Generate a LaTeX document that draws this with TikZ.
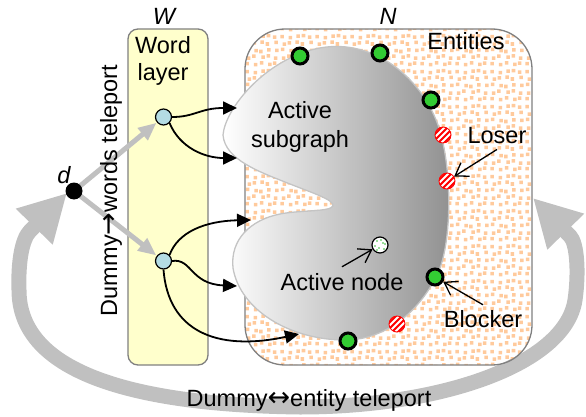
\documentclass[tikz,border=0pt]{standalone}
\usepackage{fontspec}
\setmainfont{Liberation Sans}
\newfontfamily\arrowfont{DejaVu Sans}
\usetikzlibrary{arrows.meta,patterns.meta}

\definecolor{bandgray}{HTML}{C0C0C0}
\definecolor{wordfill}{HTML}{FFFFCC}
\definecolor{boxedge}{HTML}{808080}
\definecolor{wordnode}{HTML}{B4DCE4}
\definecolor{entgreen}{HTML}{33CC33}
\definecolor{speck}{HTML}{FFCA9C}
\definecolor{blobedge}{HTML}{C4C4C4}
\definecolor{blobdark}{HTML}{909090}
\definecolor{dotgreen}{HTML}{33BB33}

% speckled fill of the entity area
\tikzdeclarepattern{
  name=speckle,
  type=uncolored,
  bounding box={(0pt,0pt) and (35pt,35pt)},
  tile size={(35pt,35pt)},
  code={
    \foreach \p in {(0.4pt,1.7pt),(9.2pt,0.6pt),(15.3pt,2.5pt),(23.8pt,1.0pt),(28.7pt,2.1pt),
                    (2.0pt,7.4pt),(7.3pt,9.4pt),(16.7pt,8.3pt),(22.1pt,9.7pt),(29.5pt,7.3pt),
                    (1.0pt,16.2pt),(9.5pt,15.1pt),(14.6pt,14.1pt),(22.8pt,15.7pt),(30.8pt,15.3pt),
                    (2.7pt,21.7pt),(7.8pt,23.0pt),(15.7pt,23.7pt),(21.1pt,21.8pt),(30.1pt,23.5pt),
                    (0.3pt,29.4pt),(8.8pt,28.3pt),(16.8pt,29.8pt),(22.3pt,30.5pt),(28.6pt,28.8pt)}
      \fill \p rectangle ++(3.6pt,3.6pt);
  }
}

\newcommand{\arrowglyph}[1]{{\arrowfont\fontsize{27}{27}\selectfont #1}}

\begin{document}
\begin{tikzpicture}[x=1pt,y=-1pt,
  lbl/.style={font=\fontsize{23.5}{28}\selectfont, inner sep=0pt},
  wordbox/.style={draw=boxedge, line width=1.3pt, fill=wordfill, rounded corners=10pt,
    minimum width=80pt, minimum height=336pt, inner sep=0pt},
  entbox/.style={draw=boxedge, line width=1.3pt, rounded corners=40pt,
    pattern=speckle, pattern color=speck,
    minimum width=287pt, minimum height=336pt, inner sep=0pt},
  wordpt/.style={circle, draw=black, line width=1.2pt, fill=wordnode, minimum size=16pt, inner sep=0pt},
  dummypt/.style={circle, fill=black, minimum size=17pt, inner sep=0pt},
  winner/.style={circle, draw=black, line width=3pt, fill=entgreen, minimum size=16pt, inner sep=0pt},
  loser/.style={circle, draw=red, line width=0.8pt, fill=red, minimum size=16pt, inner sep=0pt,
    path picture={
      \foreach \k in {-18,-12,...,18}
        \draw[white, line width=1.9pt]
          ([xshift=\k pt]path picture bounding box.south west) -- ++(24pt,24pt);
    }},
  activept/.style={circle, draw=black, line width=1.2pt, fill=white, minimum size=16pt, inner sep=0pt,
    path picture={
      \foreach \p in {(-3pt,4pt),(3pt,2pt),(-1pt,-3pt),(4pt,-4pt),(-5pt,-1pt),(1pt,5pt),(5pt,1pt),(-3pt,-5pt)}
        \fill[dotgreen] ([shift={\p}]path picture bounding box.center) circle (0.8pt);
    }},
  garrow/.style={draw=bandgray, line width=5pt, -{Triangle[length=18pt,width=15pt]}, shorten >=0.5pt},
  warrow/.style={draw=black, line width=1.8pt, -{Triangle[length=14pt,width=13pt]}},
  callout/.style={draw=black, line width=1.3pt, -{Straight Barb[length=12pt,width=16pt]}},
  bigband/.style={draw=bandgray, line width=15pt,
    {Triangle[length=47pt,width=48pt]}-{Triangle[length=47pt,width=48pt]}},
]
\useasboundingbox (0,0) rectangle (586,417);

% wide two-way teleport band
\coordinate (arcL) at (67,193);
\coordinate (arcR) at (533,198);
\draw[bigband] (arcL) -- (30,231)
  .. controls (22,239) and (18,262) .. (19,290)
  .. controls (19,375) and (140,405) .. (300,407)
  .. controls (440,407) and (565,365) .. (575,300)
  .. controls (579,272) and (577,243) .. (570,236) -- (arcR);

% layers
\node[wordbox] (wl) at (168,197) {};
\node[entbox] (ent) at (388.5,197) {};

% active subgraph
\shadedraw[left color=white, right color=blobdark, draw=blobedge, line width=1.3pt]
  (223,135) .. controls (225,110) and (262,62) .. (315,49)
  .. controls (370,36) and (420,75) .. (438,125)
  .. controls (452,165) and (452,235) .. (440,268)
  .. controls (425,305) and (390,340) .. (345,340)
  .. controls (290,340) and (240,310) .. (233,268)
  .. controls (230,240) and (250,220) .. (280,214)
  .. controls (300,210) and (330,212) .. (333,206)
  .. controls (335,200) and (310,192) .. (290,184)
  .. controls (260,172) and (225,160) .. (223,135) -- cycle;

% points
\node[wordpt] (w1) at (163.5,117) {};
\node[wordpt] (w2) at (163.5,261) {};

\draw[garrow] (74,191) -- (w1);
\draw[garrow] (74,191) -- (w2);
\node[dummypt] (d) at (74,191) {};

\node[lbl, anchor=base, rotate=90] (dwt) at (117,190.5) {Dummy\arrowglyph{→}words teleport};

% word-to-entity links
\coordinate (t1) at (237,108);
\coordinate (t2) at (237,158);
\coordinate (t3) at (251,220);
\coordinate (t4) at (237,286);
\coordinate (t5) at (299,334);
\draw[warrow] (w1.east) .. controls (195,117) and (200,108) .. (t1);
\draw[warrow] (w1.south east) .. controls (180,148) and (205,158) .. (t2);
\draw[warrow] (w2.north east) .. controls (178,232) and (205,221) .. (t3);
\draw[warrow] (w2.east) .. controls (192,258) and (190,284) .. (t4);
\draw[warrow] (w2.south) .. controls (168,330) and (215,352) .. (t5);

% entities
\node[winner] (g1) at (300,56) {};
\node[winner] (g2) at (380,53) {};
\node[winner] (g3) at (431,100) {};
\node[winner] (g4) at (435,277) {};
\node[winner] (g5) at (348,341) {};
\node[loser] (r1) at (443,135) {};
\node[loser] (r2) at (447,181) {};
\node[loser] (r3) at (397,324) {};
\node[activept] (act) at (380,245) {};

% labels
\node[lbl, anchor=base] (wlab) at (164,25) {\itshape W};
\node[lbl, anchor=base] (nlab) at (388,25) {\itshape N};
\node[lbl, anchor=base] (dlab) at (64,183) {\itshape d};
\node[lbl, align=center, font=\fontsize{23.5}{27}\selectfont] (wtxt) at (163,60.5) {Word\\layer};
\node[lbl, align=center, font=\fontsize{23.5}{29}\selectfont] (atxt) at (300,126.5) {Active\\subgraph};
\node[lbl, anchor=base] (etxt) at (466,50) {Entities};
\node[lbl, anchor=base] (lose) at (497,143) {Loser};
\node[lbl, anchor=base] (anode) at (342,290) {Active node};
\node[lbl, anchor=base] (blk) at (483,327) {Blocker};
\node[lbl, anchor=base] (det) at (309,406) {Dummy\arrowglyph{↔}entity teleport};

% callouts
\draw[callout] ([yshift=-6pt]lose.south) -- (r2);
\draw[callout] ([yshift=6pt]anode.north) -- (act);
\draw[callout] ([yshift=5pt]blk.north) -- (g4);
\end{tikzpicture}
\end{document}
